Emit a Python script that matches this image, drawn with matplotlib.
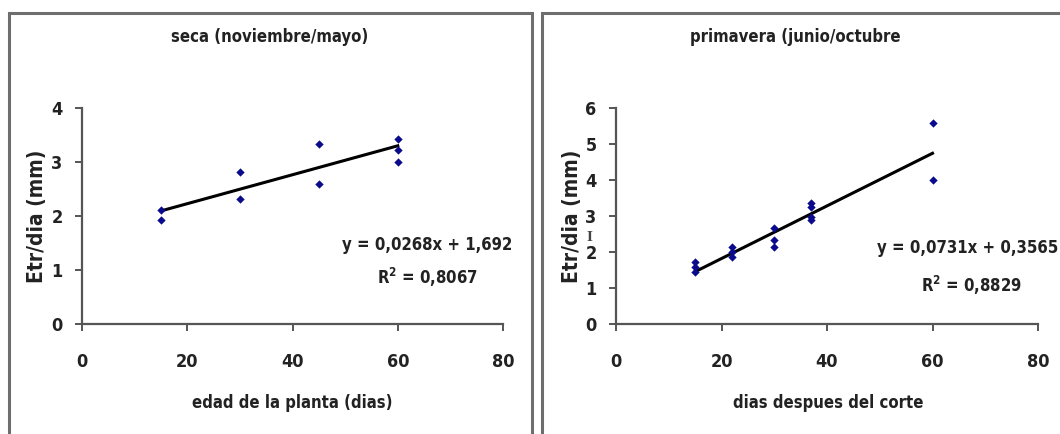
import matplotlib
matplotlib.use("Agg")
import matplotlib.pyplot as plt
from matplotlib.patches import Rectangle
import numpy as np

# ---- data ----
seca_x = [15, 15, 30, 30, 45, 45, 60, 60, 60]
seca_y = [2.12, 1.93, 2.82, 2.32, 3.33, 2.60, 3.43, 3.23, 3.00]
seca_fit = (0.0268, 1.692)
seca_eq = ["y = 0,0268x + 1,692", "R$^2$ = 0,8067"]

prim_x = [15, 15, 15, 22, 22, 22, 30, 30, 30, 37, 37, 37, 37, 60, 60]
prim_y = [1.72, 1.59, 1.45, 2.15, 2.01, 1.87, 2.66, 2.33, 2.13, 3.35, 3.24, 2.98, 2.88, 5.59, 4.00]
prim_fit = (0.0731, 0.3565)
prim_eq = ["y = 0,0731x + 0,3565", "R$^2$ = 0,8829"]

titles = ["seca (noviembre/mayo)", "primavera (junio/octubre"]
xlabels = ["edad de la planta (dias)", "dias despues del corte"]
ylabel = "Etr/dia (mm)"
xticks = [0, 20, 40, 60, 80]
yticks_l = [0, 1, 2, 3, 4]
yticks_r = [0, 1, 2, 3, 4, 5, 6]

plt.rcParams["font.family"] = ["DejaVu Sans"]
plt.rcParams["font.stretch"] = "condensed"
plt.rcParams["font.weight"] = "bold"
TXT = "#222222"

W, H = 1060, 434
fig = plt.figure(figsize=(W / 100, H / 100), dpi=100)

def fx(px):
    return px / W

def fy(py):
    return 1 - py / H

TK = dict(va="center", fontweight="bold", fontstretch="condensed", color=TXT)

# panel borders
for (x0, x1) in [(9, 532), (542, 1075)]:
    fig.patches.append(Rectangle((fx(x0), fy(440)), fx(x1 - x0), fy(13) - fy(440),
                                 transform=fig.transFigure, fill=False,
                                 edgecolor="#6e6e6e", linewidth=2.2, zorder=0))

specs = [
    dict(left=82, right=503, xs=seca_x, ys=seca_y, fit=seca_fit, eq=seca_eq,
         yticks=yticks_l, ymax=4, title=titles[0], xlabel=xlabels[0],
         title_x=270, ylab_x=37, eq_pos=((427, "center"), (427, "center")),
         eq_y=(245, 277), xlab_x=292),
    dict(left=616, right=1038, xs=prim_x, ys=prim_y, fit=prim_fit, eq=prim_eq,
         yticks=yticks_r, ymax=6, title=titles[1], xlabel=xlabels[1],
         title_x=795, ylab_x=572, eq_pos=((1058, "right"), (971, "center")),
         eq_y=(248, 285), xlab_x=828),
]

for s in specs:
    ax = fig.add_axes([fx(s["left"]), fy(324), fx(s["right"] - s["left"]), fy(108) - fy(324)])
    ax.set_xlim(0, 80)
    ax.set_ylim(0, s["ymax"])
    ax.patch.set_alpha(0)
    for sp in ["top", "right"]:
        ax.spines[sp].set_visible(False)
    for sp in ["left", "bottom"]:
        ax.spines[sp].set_color("#555555")
        ax.spines[sp].set_linewidth(1.6)
    ax.set_xticks(xticks)
    ax.set_yticks(s["yticks"])
    ax.tick_params(axis="both", direction="out", length=5, width=1.4, color="#555555",
                   labelsize=13, labelcolor=TXT)
    ax.tick_params(axis="x", pad=16)
    ax.tick_params(axis="y", pad=9)
    for lab in ax.get_xticklabels() + ax.get_yticklabels():
        lab.set_fontweight("bold")
        lab.set_fontstretch("condensed")
    ax.scatter(s["xs"], s["ys"], marker="D", s=18, color="#0a0a8c", zorder=3, linewidths=0)
    xs = np.array([min(s["xs"]), max(s["xs"])])
    a, b = s["fit"]
    ax.plot(xs, a * xs + b, color="black", linewidth=2.2, zorder=2)

    fig.text(fx(s["title_x"]), fy(37), s["title"], fontsize=12, ha="center", **TK)
    fig.text(fx(s["xlab_x"]), fy(403), s["xlabel"], fontsize=12, ha="center", **TK)
    fig.text(fx(s["ylab_x"]), fy(216), ylabel, rotation=90, fontsize=15, ha="center", **TK)
    for line, (px, ha), py in zip(s["eq"], s["eq_pos"], s["eq_y"]):
        fig.text(fx(px), fy(py), line, fontsize=12, ha=ha, **TK)

# stray cursor mark in the right panel
fig.text(fx(589), fy(238), "I", ha="center", va="center", fontsize=11,
         family=["Liberation Serif", "DejaVu Serif"], color="#444444")

fig.savefig("out.png", dpi=100)
